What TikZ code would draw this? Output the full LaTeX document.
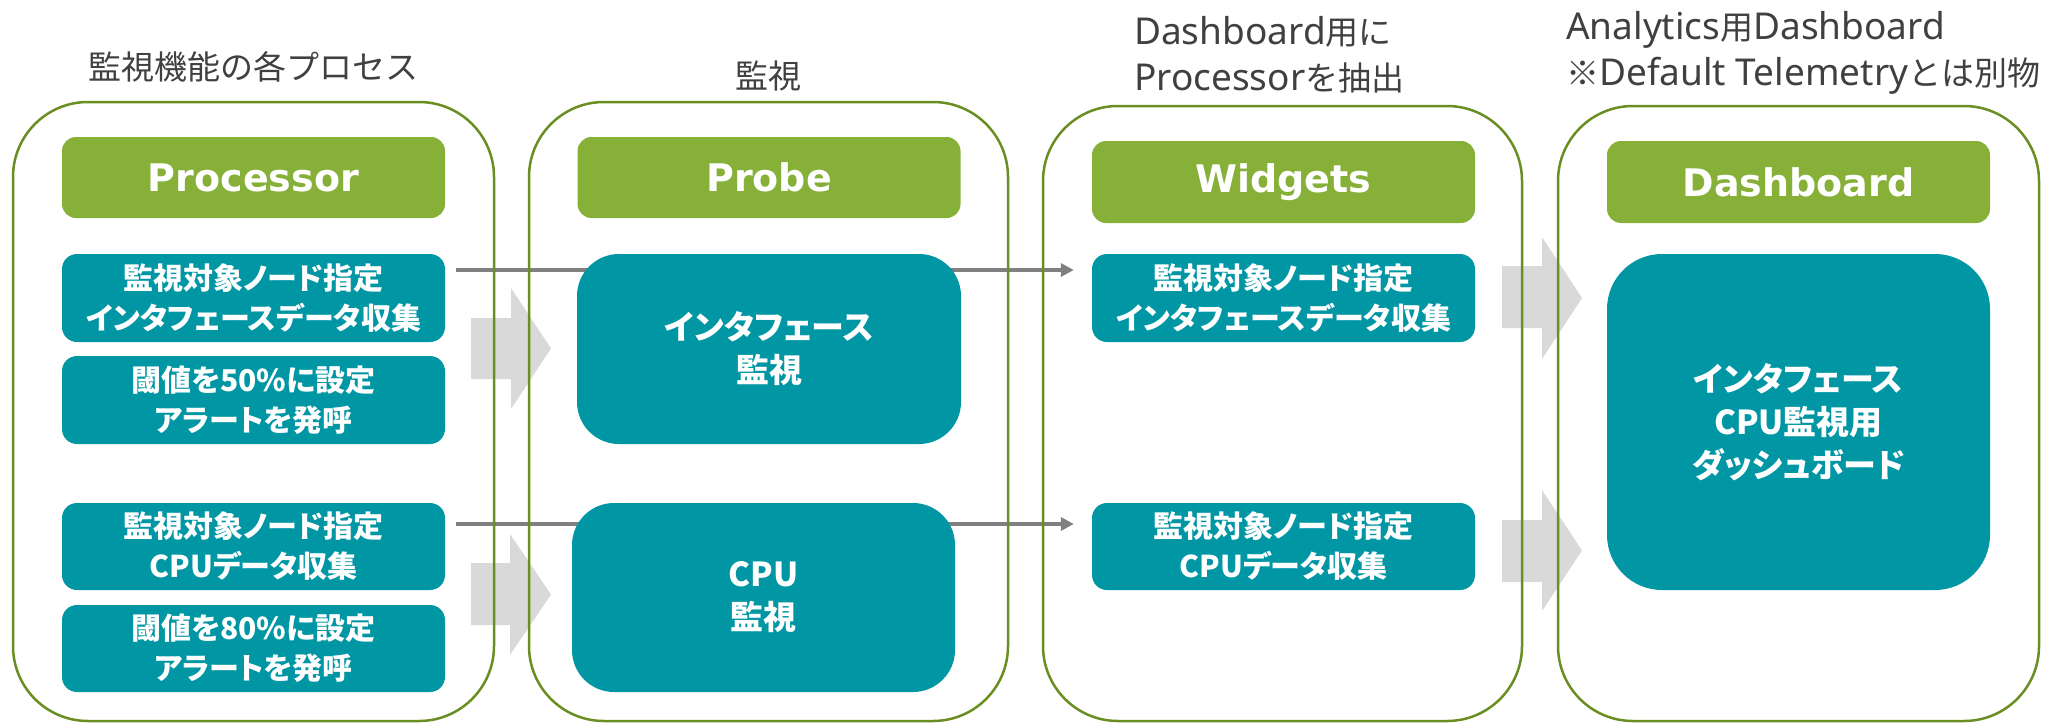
\documentclass[tikz,border=0pt]{standalone}
\usepackage{fontspec}
\setmainfont{Noto Sans CJK JP}
\newfontfamily\jpbox{Noto Sans CJK JP}[RawFeature=+palt]
\newfontfamily\latinfont{Noto Sans}
\newfontfamily\headfont{DejaVu Sans}
\usetikzlibrary{arrows.meta}
\pgfdeclarelayer{back}
\pgfsetlayers{back,main}
\definecolor{tealc}{RGB}{0,150,164}
\definecolor{greenc}{RGB}{134,176,55}
\definecolor{borderc}{RGB}{107,142,35}
\definecolor{arrowc}{RGB}{128,128,128}
\definecolor{blockc}{RGB}{217,217,217}
\definecolor{titlec}{RGB}{64,64,64}
\newcommand\lt[1]{{\fontsize{37}{46}\selectfont\latinfont #1}}
\begin{document}
\begin{tikzpicture}[x=1pt,y=-1pt,
  container/.style={draw=borderc,line width=2.5pt,rounded corners=75pt,inner sep=0pt},
  header/.style={fill=greenc,rounded corners=14pt,text=white,inner sep=0pt,
    minimum width=383pt,font=\headfont\bfseries\fontsize{38}{44}\selectfont},
  smallbox/.style={fill=tealc,rounded corners=15pt,text=white,inner sep=0pt,align=center,
    minimum width=383pt,font=\jpbox\bfseries\fontsize{30}{40}\selectfont},
  bigbox/.style={fill=tealc,rounded corners=42pt,text=white,inner sep=0pt,align=center,
    font=\jpbox\bfseries\fontsize{33}{43}\selectfont},
  titletext/.style={text=titlec,inner sep=0pt,font=\fontsize{33}{46}\selectfont},
  conn/.style={draw=arrowc,line width=4pt,-{Triangle[length=13pt,width=13pt]}},
  blockarrow/.style={fill=blockc,draw=none}]
\useasboundingbox (0,0) rectangle (2053,723);
% containers
\node[container,minimum width=481pt,minimum height=619pt] (c1) at (253.5,411.5) {};
\node[container,minimum width=479pt,minimum height=619pt] (c2) at (768.5,411.5) {};
\node[container,minimum width=479pt,minimum height=615pt] (c3) at (1282.5,413.5) {};
\node[container,minimum width=481pt,minimum height=615pt] (c4) at (1798.5,413.5) {};
% titles
\node[titletext] (t1) at (253.5,67) {監視機能の各プロセス};
\node[titletext] (t2) at (768.5,76) {監視};
\node[titletext,anchor=west,align=left] (t3) at (1134,55) {\lt{Dashboard}用に\\\lt{Processor}を抽出};
\node[titletext,anchor=west,align=left] (t4) at (1566,53) {\lt{Analytics}用\lt{Dashboard}\\※\lt{Default Telemetry}とは別物};
% headers
\node[header,minimum height=81pt] (h1) at (253.5,177.5) {Processor};
\node[header,minimum height=81pt] (h2) at (769,177.5) {Probe};
\node[header,minimum height=82pt] (h3) at (1283.5,182) {Widgets};
\node[header,minimum height=82pt] (h4) at (1798.5,182) {Dashboard};
% processor boxes
\node[smallbox,minimum height=88pt] (p1) at (253.5,298) {監視対象ノード指定\\インタフェースデータ収集};
\node[smallbox,minimum height=88pt] (p2) at (253.5,400) {閾値を50\%に設定\\アラートを発呼};
\node[smallbox,minimum height=87pt] (p3) at (253.5,546.5) {監視対象ノード指定\\CPUデータ収集};
\node[smallbox,minimum height=87pt] (p4) at (253.5,648.5) {閾値を80\%に設定\\アラートを発呼};
% probe boxes
\node[bigbox,minimum width=384pt,minimum height=190pt] (b1) at (769,349) {インタフェース\\監視};
\node[bigbox,minimum width=383pt,minimum height=189pt] (b2) at (763.5,597.5) {CPU\\監視};
% widgets
\node[smallbox,minimum height=88pt] (w1) at (1283.5,298) {監視対象ノード指定\\インタフェースデータ収集};
\node[smallbox,minimum height=87pt] (w2) at (1283.5,546.5) {監視対象ノード指定\\CPUデータ収集};
% dashboard
\node[bigbox,rounded corners=55pt,minimum width=383pt,minimum height=336pt] (d) at (1798.5,422) {インタフェース\\CPU監視用\\ダッシュボード};
\begin{pgfonlayer}{back}
\draw[conn,shorten <=11pt,shorten >=18pt] ([yshift=28pt]p1.east) -- ([yshift=28pt]w1.west);
\draw[conn,shorten <=11pt,shorten >=18pt] ([yshift=22.5pt]p3.east) -- ([yshift=22.5pt]w2.west);
\path[blockarrow] (471,318) -- (511,318) -- (511,288) -- (551,348.5) -- (511,409) -- (511,379) -- (471,379) -- cycle;
\path[blockarrow] (471,563) -- (510,563) -- (510,534) -- (551,594.5) -- (510,655) -- (510,625) -- (471,625) -- cycle;
\path[blockarrow] (1502,266) -- (1542,266) -- (1542,237) -- (1582,298) -- (1542,359) -- (1542,328) -- (1502,328) -- cycle;
\path[blockarrow] (1502,520) -- (1542,520) -- (1542,490) -- (1582,550.5) -- (1542,611) -- (1542,582) -- (1502,582) -- cycle;
\end{pgfonlayer}
\end{tikzpicture}
\end{document}
